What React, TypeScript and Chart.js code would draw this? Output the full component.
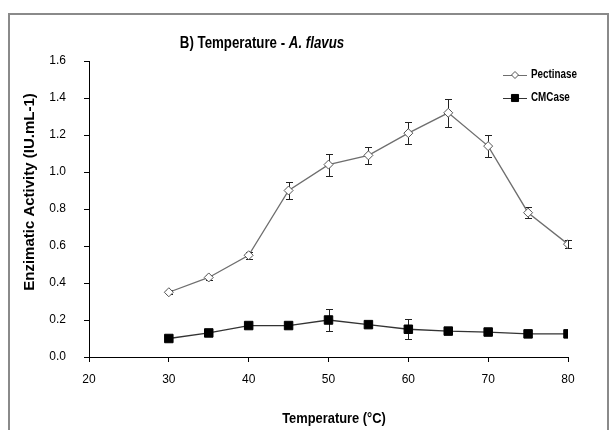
import React, { useEffect, useRef } from 'react';
import { Chart, registerables } from 'chart.js';

Chart.register(...registerables);

// ---- data ----
const temperatures = [30, 35, 40, 45, 50, 55, 60, 65, 70, 75, 80];
const pectinase = [0.35, 0.43, 0.55, 0.9, 1.04, 1.09, 1.21, 1.32, 1.14, 0.78, 0.61];
const pectinaseErr = [0.01, 0.015, 0.02, 0.045, 0.06, 0.045, 0.06, 0.075, 0.06, 0.03, 0.02];
const cmcase = [0.1, 0.13, 0.17, 0.17, 0.2, 0.175, 0.15, 0.14, 0.135, 0.125, 0.125];
const cmcaseErr = [0, 0, 0, 0, 0.06, 0, 0.055, 0, 0, 0, 0];
const seriesNames = ['Pectinase', 'CMCase'];
const titleMain = 'B) Temperature - ';
const titleItalic = 'A. flavus';
const xTitle = 'Temperature (\u00B0C)';
const yTitle = 'Enzimatic Activity (IU.mL-1)';

const SANS = "'Liberation Sans', Arial, sans-serif";

function drawMarker(ctx: CanvasRenderingContext2D, style: string, x: number, y: number, r: number, fill: string, stroke: string) {
  ctx.save();
  ctx.beginPath();
  if (style === 'rectRot') {
    ctx.moveTo(x - r, y);
    ctx.lineTo(x, y - r);
    ctx.lineTo(x + r, y);
    ctx.lineTo(x, y + r);
    ctx.closePath();
  } else {
    const s = Math.SQRT1_2 * r;
    ctx.rect(x - s, y - s, 2 * s, 2 * s);
  }
  ctx.fillStyle = fill;
  ctx.fill();
  ctx.lineWidth = 1;
  ctx.strokeStyle = stroke;
  ctx.stroke();
  ctx.restore();
}

// draw text compressed horizontally (narrow look), left-aligned at x
function fillScaled(ctx: CanvasRenderingContext2D, text: string, x: number, y: number, font: string, sx: number) {
  ctx.save();
  ctx.font = font;
  ctx.textAlign = 'left';
  ctx.textBaseline = 'middle';
  ctx.translate(x, y);
  ctx.scale(sx, 1);
  ctx.fillText(text, 0, 0);
  ctx.restore();
}
function widthScaled(ctx: CanvasRenderingContext2D, text: string, font: string, sx: number) {
  ctx.save();
  ctx.font = font;
  const w = ctx.measureText(text).width * sx;
  ctx.restore();
  return w;
}

const framePlugin = {
  id: 'frame',
  beforeDraw(chart: any) {
    const ctx = chart.ctx as CanvasRenderingContext2D;
    ctx.save();
    ctx.fillStyle = '#ffffff';
    ctx.fillRect(0, 0, chart.width, chart.height);
    ctx.strokeStyle = '#8a8a8a';
    ctx.lineWidth = 2;
    ctx.strokeRect(9, 14, 599, 500);
    ctx.restore();
  },
};

const errorBarPlugin = {
  id: 'errorBars',
  beforeDatasetsDraw(chart: any) {
    const ctx = chart.ctx as CanvasRenderingContext2D;
    const xs = chart.scales.x;
    const ys = chart.scales.y;
    chart.data.datasets.forEach((ds: any) => {
      const errs: number[] = ds.errors || [];
      ctx.save();
      ctx.strokeStyle = '#222';
      ctx.lineWidth = 1;
      ds.data.forEach((pt: any, i: number) => {
        const e = errs[i];
        if (!e) return;
        const px = Math.round(xs.getPixelForValue(pt.x)) + 0.5;
        const top = Math.round(ys.getPixelForValue(pt.y + e)) + 0.5;
        const bot = Math.round(ys.getPixelForValue(pt.y - e)) + 0.5;
        ctx.beginPath();
        ctx.moveTo(px, top);
        ctx.lineTo(px, bot);
        ctx.moveTo(px - 3.5, top);
        ctx.lineTo(px + 3.5, top);
        ctx.moveTo(px - 3.5, bot);
        ctx.lineTo(px + 3.5, bot);
        ctx.stroke();
      });
      ctx.restore();
    });
  },
};

const textPlugin = {
  id: 'texts',
  afterDraw(chart: any) {
    const ctx = chart.ctx as CanvasRenderingContext2D;
    const area = chart.chartArea;
    ctx.save();
    ctx.fillStyle = '#000';

    // title with italic part
    const fMain = `bold 16px ${SANS}`;
    const fIt = `italic bold 16px ${SANS}`;
    const tsx = 0.83;
    const w1 = widthScaled(ctx, titleMain, fMain, tsx);
    const w2 = widthScaled(ctx, titleItalic, fIt, tsx);
    const startX = 262 - (w1 + w2) / 2;
    fillScaled(ctx, titleMain, startX, 44, fMain, tsx);
    fillScaled(ctx, titleItalic, startX + w1, 44, fIt, tsx);

    // x axis title
    const fx = `bold 14px ${SANS}`;
    const xsx = 0.92;
    const wx = widthScaled(ctx, xTitle, fx, xsx);
    fillScaled(ctx, xTitle, 334 - wx / 2, 419, fx, xsx);

    // y axis title
    ctx.save();
    ctx.translate(30, 192);
    ctx.rotate(-Math.PI / 2);
    ctx.font = `bold 15px ${SANS}`;
    ctx.textAlign = 'center';
    ctx.textBaseline = 'middle';
    ctx.fillText(yTitle, 0, 0);
    ctx.restore();

    // legend
    const lx = area.right - 65;
    chart.data.datasets.forEach((ds: any, i: number) => {
      const y = area.top + 14 + i * 23;
      ctx.strokeStyle = ds.borderColor;
      ctx.lineWidth = 1;
      ctx.beginPath();
      ctx.moveTo(lx, y + 0.5);
      ctx.lineTo(lx + 24, y + 0.5);
      ctx.stroke();
      drawMarker(ctx, ds.pointStyle, lx + 12, y, i === 0 ? 3.5 : 5, ds.pointBackgroundColor, ds.pointBorderColor);
      ctx.fillStyle = '#000';
      fillScaled(ctx, seriesNames[i], lx + 28, y, `bold 12px ${SANS}`, 0.82);
    });
    ctx.restore();
  },
};

export default function App() {
  const ref = useRef<HTMLCanvasElement | null>(null);
  useEffect(() => {
    if (!ref.current) return;
    const chart = new Chart(ref.current, {
      type: 'line',
      data: {
        datasets: [
          {
            label: seriesNames[0],
            data: temperatures.map((t, i) => ({ x: t, y: pectinase[i] })),
            errors: pectinaseErr,
            borderColor: '#6e6e6e',
            borderWidth: 1.3,
            pointStyle: 'rectRot',
            pointRadius: 4.5,
            pointBackgroundColor: '#ffffff',
            pointBorderColor: '#555555',
            pointBorderWidth: 1,
            tension: 0,
          } as any,
          {
            label: seriesNames[1],
            data: temperatures.map((t, i) => ({ x: t, y: cmcase[i] })),
            errors: cmcaseErr,
            borderColor: '#333333',
            borderWidth: 1.3,
            pointStyle: 'rect',
            pointRadius: 6,
            pointBackgroundColor: '#000000',
            pointBorderColor: '#000000',
            pointBorderWidth: 1,
            tension: 0,
          } as any,
        ],
      },
      options: {
        responsive: false,
        animation: false,
        layout: { padding: { left: 0, top: 61, right: 43, bottom: 0 } },
        plugins: {
          legend: { display: false },
          title: { display: false },
          tooltip: { enabled: false },
        },
        scales: {
          x: {
            type: 'linear',
            min: 20,
            max: 80,
            ticks: { stepSize: 10, color: '#000', font: { family: SANS, size: 12 }, padding: 10 },
            grid: { drawOnChartArea: false, drawTicks: true, tickLength: 5, color: '#000' },
            border: { color: '#000', width: 1 },
            afterFit: (s: any) => { s.height = 73; },
          },
          y: {
            type: 'linear',
            min: 0,
            max: 1.6,
            ticks: {
              stepSize: 0.2,
              color: '#000',
              font: { family: SANS, size: 12 },
              padding: 18,
              callback: (v: any) => Number(v).toFixed(1),
            },
            grid: { drawOnChartArea: false, drawTicks: true, tickLength: 5, color: '#000' },
            border: { color: '#000', width: 1 },
            afterFit: (s: any) => { s.width = 89; },
          },
        },
      } as any,
      plugins: [framePlugin, errorBarPlugin, textPlugin],
    });
    return () => chart.destroy();
  }, []);
  return (
    <div style={{ position: 'absolute', left: 0, top: 0, width: 611, height: 430, background: '#fff' }}>
      <canvas ref={ref} width={611} height={430} style={{ display: 'block', width: 611, height: 430 }} />
    </div>
  );
}
